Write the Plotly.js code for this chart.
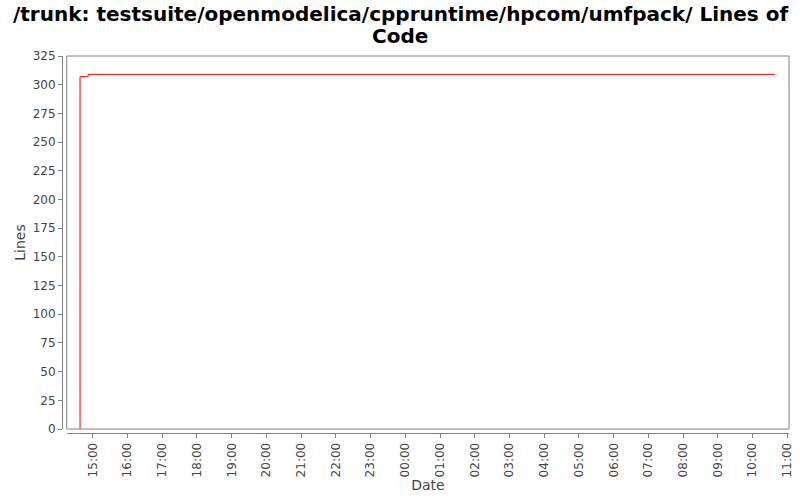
<!DOCTYPE html>
<html>
<head>
<meta charset="utf-8">
<script src="https://cdn.plot.ly/plotly-3.0.1.min.js"></script>
<style>html,body{margin:0;padding:0;background:#fff;}#chart{width:800px;height:500px;}</style>
</head>
<body>
<div id="chart"></div>
<script>
const dates = ["2014-01-01 14:38", "2014-01-01 14:38", "2014-01-01 14:52", "2014-01-02 10:39"];
const lines = [0, 307, 309, 309];
const tickDates = ["2014-01-01 15:00","2014-01-01 16:00","2014-01-01 17:00","2014-01-01 18:00","2014-01-01 19:00","2014-01-01 20:00","2014-01-01 21:00","2014-01-01 22:00","2014-01-01 23:00","2014-01-02 00:00","2014-01-02 01:00","2014-01-02 02:00","2014-01-02 03:00","2014-01-02 04:00","2014-01-02 05:00","2014-01-02 06:00","2014-01-02 07:00","2014-01-02 08:00","2014-01-02 09:00","2014-01-02 10:00","2014-01-02 11:00"];
const tickLabels = ["15:00","16:00","17:00","18:00","19:00","20:00","21:00","22:00","23:00","00:00","01:00","02:00","03:00","04:00","05:00","06:00","07:00","08:00","09:00","10:00","11:00"];
const yTicks = [0,25,50,75,100,125,150,175,200,225,250,275,300,325];
const titleLines = ["/trunk: testsuite/openmodelica/cppruntime/hpcom/umfpack/ Lines of", "Code"];

const font = "DejaVu Sans, sans-serif";
const trace = {
  x: dates, y: lines, type: "scatter", mode: "lines",
  line: {color: "#ff0000", width: 1, shape: "hv"},
  hoverinfo: "skip"
};
const titleY = [1.1114, 1.0531];
const layout = {
  width: 800, height: 500,
  paper_bgcolor: "#ffffff", plot_bgcolor: "#ffffff",
  margin: {l: 62, r: 11, t: 56, b: 67},
  showlegend: false,
  annotations: titleLines.map((t, i) => ({
    text: "<b>" + t + "</b>", xref: "paper", yref: "paper",
    x: 0.465, y: titleY[i], xanchor: "center", yanchor: "middle",
    showarrow: false, font: {family: font, size: 20, color: "#000"}
  })),
  xaxis: {
    type: "date",
    domain: [0.0065, 1],
    anchor: "free", position: 0,
    range: ["2014-01-01 14:15", "2014-01-02 11:03"],
    tickmode: "array", tickvals: tickDates, ticktext: tickLabels,
    tickangle: -90,
    ticks: "outside", ticklen: 4, tickcolor: "#808080", tickwidth: 1,
    showline: true, linecolor: "#808080", linewidth: 1,
    showgrid: false, zeroline: false,
    tickfont: {family: font, size: 12, color: "#444"},
    title: {text: "Date", font: {family: font, size: 14, color: "#444"}, standoff: 3}
  },
  yaxis: {
    domain: [0.0106, 1],
    anchor: "free", position: 0,
    range: [0, 325],
    tickmode: "array", tickvals: yTicks,
    ticks: "outside", ticklen: 4, tickcolor: "#808080", tickwidth: 1,
    showline: true, linecolor: "#808080", linewidth: 1,
    showgrid: false, zeroline: false,
    tickfont: {family: font, size: 12, color: "#444"},
    title: {text: "Lines", font: {family: font, size: 14, color: "#444"}, standoff: 2}
  },
  shapes: [{
    type: "rect", xref: "x domain", yref: "y domain",
    x0: 0, x1: 1, y0: 0, y1: 1,
    line: {color: "#808080", width: 1}, fillcolor: "rgba(0,0,0,0)", layer: "above"
  }]
};
Plotly.newPlot("chart", [trace], layout, {displayModeBar: false, staticPlot: true});
</script>
</body>
</html>
